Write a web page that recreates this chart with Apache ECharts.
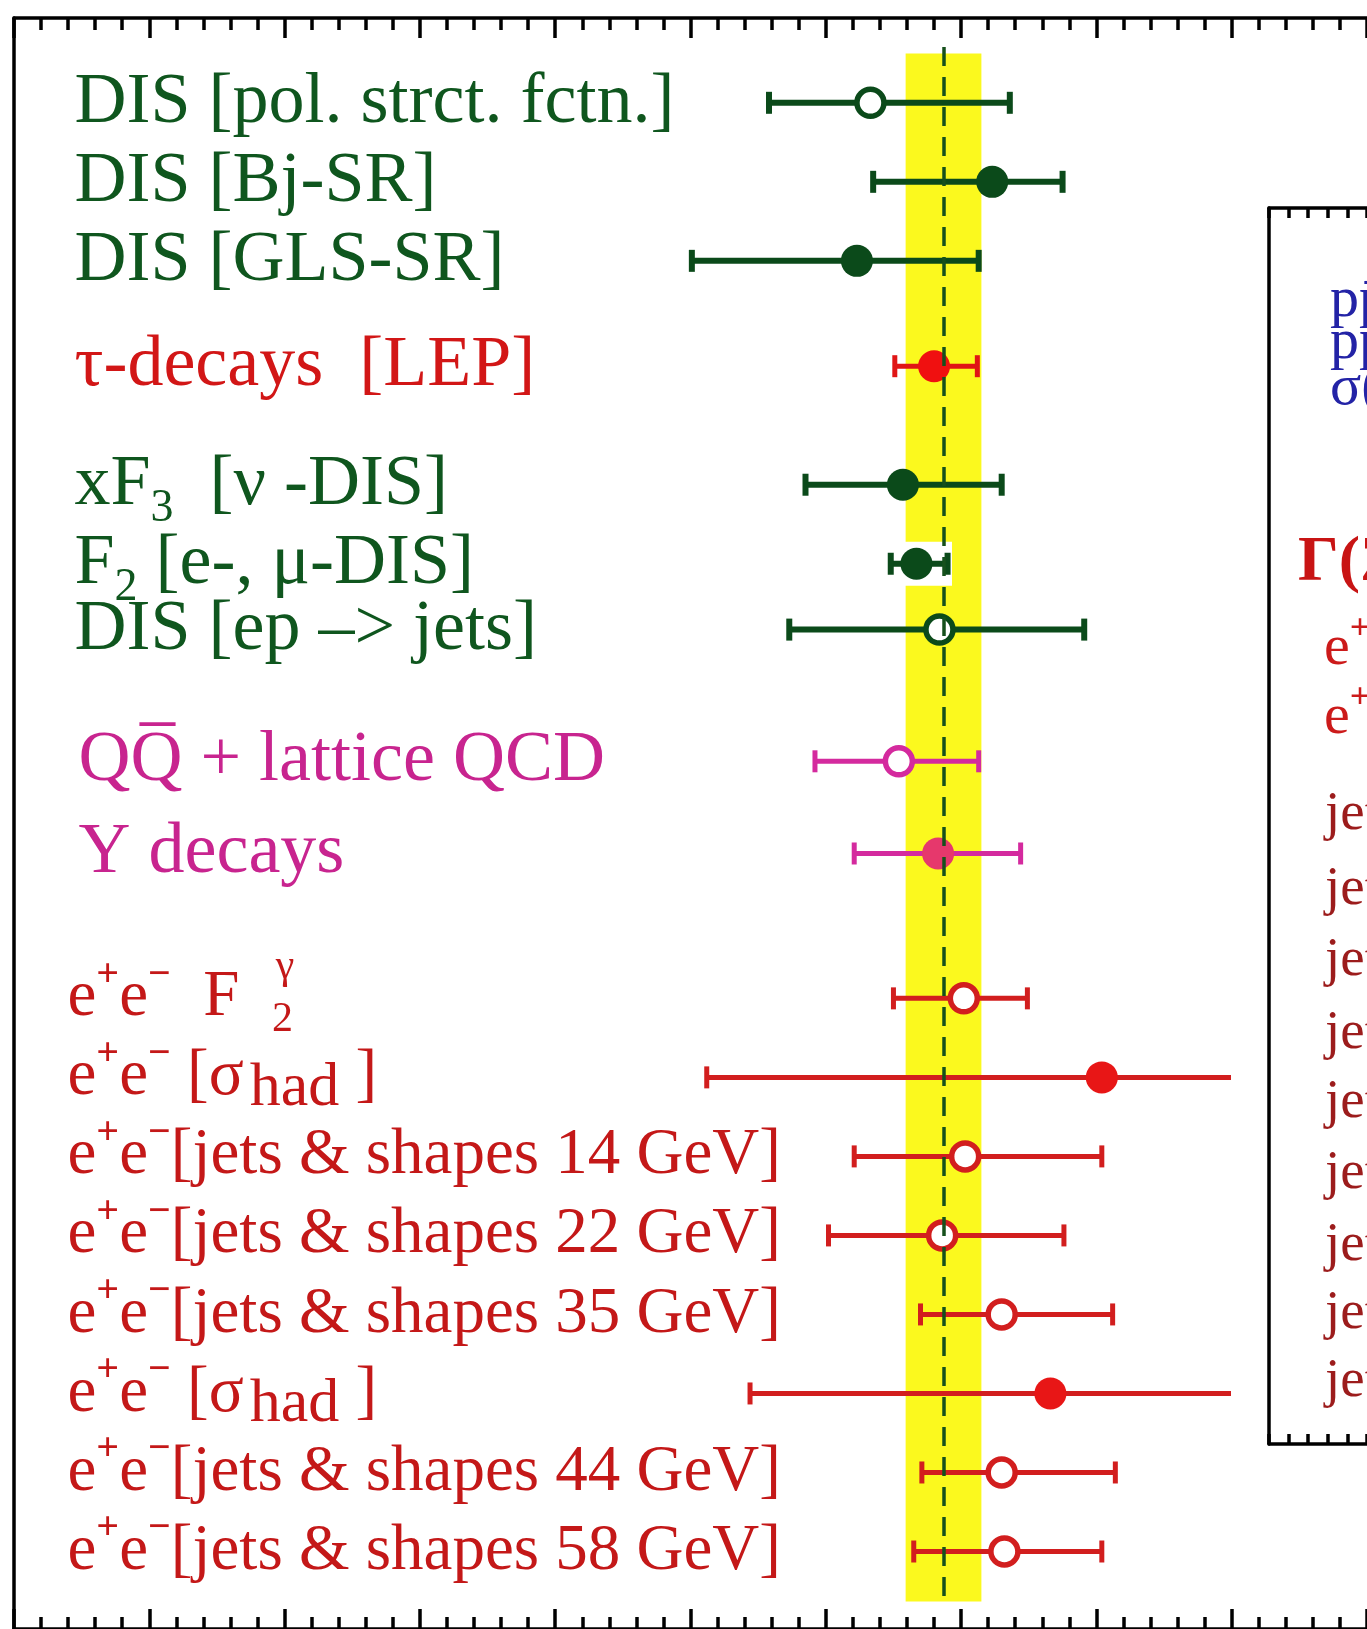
<!DOCTYPE html>
<html>
<head>
<meta charset="utf-8">
<title>alpha_s summary</title>
<script src="https://cdn.jsdelivr.net/npm/echarts@6.0.0/dist/echarts.min.js"></script>
<style>
html,body{margin:0;padding:0;background:#ffffff;}
#chart{width:1367px;height:1629px;}
</style>
</head>
<body>
<div id="chart"></div>
<script>
// ---------------- data ----------------
const rowLabels = [
  'DIS [pol. strct. fctn.]',
  'DIS [Bj-SR]',
  'DIS [GLS-SR]',
  'τ-decays  [LEP]',
  'xF_3  [ν -DIS]',
  'F_2 [e-, μ-DIS]',
  'DIS [ep –> jets]',
  'QQ\u0305 + lattice QCD',
  'Υ decays',
  'e^+e^-  F  _2',
  'e^+e^- [σ_had ]',
  'e^+e^-[jets & shapes 14 GeV]',
  'e^+e^-[jets & shapes 22 GeV]',
  'e^+e^-[jets & shapes 35 GeV]',
  'e^+e^- [σ_had ]',
  'e^+e^-[jets & shapes 44 GeV]',
  'e^+e^-[jets & shapes 58 GeV]'
];
const rowGroups = ['dis','dis','dis','tau','dis','dis','dis','qq','qq','ee','ee','ee','ee','ee','ee','ee','ee'];
const alphaS  = [0.1133,0.1223,0.1123,0.1180,0.1157,0.1167,0.1184,0.1154,0.1183,0.1202,0.1304,0.1203,0.1186,0.1230,0.1266,0.1230,0.1232];
const errLow  = [0.1058,0.1135,0.1001,0.1151,0.1085,0.1148,0.1073,0.1092,0.1121,0.1150,0.1012,0.1121,0.1102,0.1170,0.1044,0.1171,0.1165];
const errHigh = [0.1236,0.1275,0.1213,0.1212,0.1230,0.1190,0.1291,0.1213,0.1244,0.1249,0.1450,0.1304,0.1276,0.1312,0.1450,0.1314,0.1304];
const openMarker = [true,false,false,false,false,false,true,true,false,true,false,true,true,true,false,true,true];
const worldAverage = 0.1187;
const worldBand = [0.1159, 0.1215];
const axisMin = 0.05, axisMax = 0.15, axisStep = 0.01;
const insetTexts = [
  'pp\u0304 \u2192 bb\u0304X',
  'pp\u0304, pp \u2192 \u03b3X',
  '\u03c3(pp\u0304 \u2192 jets)',
  '\u0393(Z\u2070 \u2192 had.) [LEP]',
  '{b|e}{p|+}{b|e}{p|\u2212}{b| [jets & shapes 91.2 GeV]}',
  '{b|e}{p|+}{b|e}{p|\u2212}{b| [jets & shapes 133 GeV]}',
  'jets & shapes 161 GeV',
  'jets & shapes 172 GeV',
  'jets & shapes 183 GeV',
  'jets & shapes 189 GeV',
  'jets & shapes 192 GeV',
  'jets & shapes 196 GeV',
  'jets & shapes 200 GeV',
  'jets & shapes 202 GeV',
  'jets & shapes 206 GeV'
];
const insetKinds = ['blue','blue','blue','gamma','ee','ee','jet','jet','jet','jet','jet','jet','jet','jet','jet'];

// ---------------- layout / styles ----------------
const blankSlotsBefore = [0,5,5,7,8,5,4,9,6,10,5,5,5,5,5,5,5];
const insetPos = [[1330,301],[1330,343],[1330,389],[1298,563],[1324,649],[1324,718],
                  [1325,815],[1325,890],[1325,961],[1325,1034],[1325,1103],[1325,1174],[1325,1246],[1325,1314],[1325,1382]];
const FONT = '"Liberation Serif","Times New Roman",serif';
const groupStyle = {
  dis: {text:'#0f561e', bar:'#0b4a1a', marker:'#0b4a1a', fill:'#0b4a1a', w:6, cap:11, size:72, pad:7},
  tau: {text:'#d21616', bar:'#e01515', marker:'#f01010', fill:'#f01010', w:5, cap:11, size:72, pad:7},
  qq:  {text:'#c8248f', bar:'#d42a9e', marker:'#d42a9e', fill:'#e6386c', w:5, cap:11, size:72, pad:11},
  ee:  {text:'#c41818', bar:'#d21e1e', marker:'#d21e1e', fill:'#e81616', w:5, cap:11, size:65, pad:0}
};
const groupKeys = Object.keys(groupStyle);

// categories with blank spacer slots
const categories = [];
const rowSlot = [];
const slotRow = {};
rowLabels.forEach((lab, i) => {
  for (let k = 0; k < blankSlotsBefore[i]; k++) categories.push('');
  rowSlot[i] = categories.length;
  slotRow[categories.length] = i;
  categories.push(lab);
});

// rich text styles
const rich = {};
groupKeys.forEach(k => {
  const s = groupStyle[k];
  const lh = Math.round(s.size*1.3);
  rich[k]     = {color:s.text, fontFamily:FONT, fontSize:s.size, lineHeight:lh, verticalAlign:'middle'};
  rich[k+'F'] = {color:s.text, fontFamily:FONT, fontSize:s.size, lineHeight:lh, verticalAlign:'middle', padding:[0,0,0,s.pad]};
  rich[k+'B'] = {color:s.text, fontFamily:FONT, fontSize:Math.round(s.size*0.64), lineHeight:Math.round(s.size*0.62), verticalAlign:'bottom'};
  rich[k+'S'] = {color:s.text, fontFamily:FONT, fontSize:Math.round(s.size*0.95), lineHeight:Math.round(s.size*0.98), verticalAlign:'bottom', padding:[Math.round(s.size*0.62),0,0,6]};
  rich[k+'P'] = {color:s.text, fontFamily:FONT, fontSize:Math.round(s.size*0.62), fontWeight:'bold', lineHeight:Math.round(s.size*0.62), verticalAlign:'top'};
});
function toRich(s, key) {
  let out = '', buf = '', first = true;
  const flush = () => { if (buf) { out += '{' + key + (first ? 'F' : '') + '|' + buf + '}'; buf = ''; first = false; } };
  for (let i = 0; i < s.length; i++) {
    const c = s[i];
    if (c === '^') {
      flush();
      let t = s[i+1]; if (t === '-') t = '\u2212';
      out += '{' + key + 'P|' + t + '}'; i++; first = false;
    } else if (c === '_') {
      flush();
      let j = i + 1, t = '';
      while (j < s.length && /[0-9A-Za-z]/.test(s[j])) { t += s[j]; j++; }
      out += '{' + key + (t.length > 1 ? 'S' : 'B') + '|' + t + '}'; i = j - 1; first = false;
    } else buf += c;
  }
  flush();
  return out;
}

const barData = rowLabels.map((_, i) => [errLow[i], errHigh[i], rowSlot[i], groupKeys.indexOf(rowGroups[i])]);
const markerData = rowLabels.map((_, i) => {
  const st = groupStyle[rowGroups[i]];
  return openMarker[i]
    ? {value:[alphaS[i], rowSlot[i]], symbolSize:27, itemStyle:{color:'#ffffff', borderColor:st.marker, borderWidth:5.5, opacity:1}}
    : {value:[alphaS[i], rowSlot[i]], symbolSize:32, itemStyle:{color:st.fill, borderWidth:0, opacity:1}};
});

const frameAxis = (pos) => ({
  gridIndex:0, type:'value', position:pos, min:axisMin, max:axisMax, interval:axisStep,
  axisLine:{show:true, onZero:false, lineStyle:{color:'#000', width:3.5}},
  axisTick:{show:true, inside:true, length:20, lineStyle:{color:'#000', width:3.5}},
  minorTick:{show:true, splitNumber:5, length:12, lineStyle:{color:'#000', width:3.5}},
  axisLabel:{show:false}, splitLine:{show:false}, minorSplitLine:{show:false}
});
const insetAxis = (pos) => ({
  gridIndex:2, type:'value', position:pos, min:0, max:5, interval:1, z:10,
  axisLine:{show:true, onZero:false, lineStyle:{color:'#000', width:3.5}},
  axisTick:{show:true, inside:true, length:10, lineStyle:{color:'#000', width:3.5}},
  axisLabel:{show:false}, splitLine:{show:false}
});

const nSlots = categories.length;
const slotH = 13.17;
const chart = echarts.init(document.getElementById('chart'), null, {renderer:'canvas'});
chart.setOption({
  animation:false,
  backgroundColor:'#ffffff',
  grid:[
    {left:14, top:18, width:1357.5, height:1614},
    {left:14, top:102.8 - slotH/2, width:1357.5, height:nSlots*slotH},
    {left:1269, top:208, width:135, height:1236}
  ],
  xAxis:[
    frameAxis('top'), frameAxis('bottom'),
    {gridIndex:1, type:'value', min:axisMin, max:axisMax, show:false},
    insetAxis('top'), insetAxis('bottom')
  ],
  yAxis:[
    {gridIndex:0, type:'value', min:0, max:1, inverse:true,
     axisLine:{show:true, onZero:false, lineStyle:{color:'#000', width:3.5}},
     axisTick:{show:false}, axisLabel:{show:false}, splitLine:{show:false}},
    {gridIndex:1, type:'category', inverse:true, data:categories, boundaryGap:true,
     axisLine:{show:false}, axisTick:{show:false}, splitLine:{show:false},
     axisLabel:{show:true, interval:0, align:'left', margin:-53.5, rich:rich,
       formatter:(v, idx) => { const r = slotRow[idx]; return (r === undefined) ? '' : toRich(rowLabels[r], rowGroups[r]); }}},
    {gridIndex:2, type:'value', min:0, max:1, z:10,
     axisLine:{show:true, onZero:false, lineStyle:{color:'#000', width:3.5}},
     axisTick:{show:false}, axisLabel:{show:false}, splitLine:{show:false}}
  ],
  series:[
    {type:'line', xAxisIndex:0, yAxisIndex:0, z:1, silent:true, symbol:'none',
     lineStyle:{opacity:0}, data:[[worldAverage,0.5]],
     markArea:{silent:true, itemStyle:{color:'#fbf91e'},
       data:[[{xAxis:worldBand[0], yAxis:0.022},{xAxis:worldBand[1], yAxis:0.983}]]}},
    {type:'line', xAxisIndex:0, yAxisIndex:0, z:2, silent:true, symbol:'none',
     lineStyle:{opacity:0}, data:[[worldAverage,0.5]],
     markLine:{silent:true, symbol:'none', label:{show:false},
       lineStyle:{type:[19,11], color:'#16501c', width:3.5},
       data:[[{coord:[worldAverage,0.018]},{coord:[worldAverage,0.983]}]]}},
    {type:'custom', xAxisIndex:2, yAxisIndex:1, z:3, silent:true,
     encode:{x:[0,1], y:2},
     renderItem:(params, api) => {
       const lo = api.value(0), hi = api.value(1), cat = api.value(2);
       const st = groupStyle[groupKeys[api.value(3)]];
       const p1 = api.coord([lo, cat]), p2 = api.coord([hi, cat]);
       const ls = {stroke:st.bar, lineWidth:st.w};
       return {type:'group', children:[
         {type:'line', shape:{x1:p1[0], y1:p1[1], x2:p2[0], y2:p2[1]}, style:ls},
         {type:'line', shape:{x1:p1[0], y1:p1[1]-st.cap, x2:p1[0], y2:p1[1]+st.cap}, style:ls},
         {type:'line', shape:{x1:p2[0], y1:p2[1]-st.cap, x2:p2[0], y2:p2[1]+st.cap}, style:ls}
       ]};
     },
     data:barData},
    {type:'scatter', xAxisIndex:2, yAxisIndex:1, z:4, silent:true, symbol:'circle', data:markerData}
  ]
});

// overlay: F2 white notch, inset white panel, gamma superscript, inset texts
const yF2 = chart.convertToPixel({yAxisIndex:1}, rowSlot[5]);
const yF2g = chart.convertToPixel({yAxisIndex:1}, rowSlot[9]);
const insetStyle = {
  blue:  {fill:'#2323a6', fontSize:58, fontWeight:'normal'},
  gamma: {fill:'#c81414', fontSize:64, fontWeight:'bold'},
  ee:    {fill:'#cc1a1a', fontSize:58, fontWeight:'normal'},
  jet:   {fill:'#9c1c1c', fontSize:55, fontWeight:'normal'}
};
const elements = [
  {type:'rect', z:1.5, silent:true, shape:{x:873, y:yF2-22, width:79, height:44}, style:{fill:'#ffffff'}},
  {type:'rect', z:5, silent:true, shape:{x:1231, y:200, width:200, height:1252}, style:{fill:'#ffffff'}},
  {type:'text', z:5, silent:true, x:285, y:yF2g-31,
   style:{text:'\u03b3', fill:groupStyle.ee.text, font:'42px ' + FONT, textAlign:'center', textVerticalAlign:'middle'}}
];
insetTexts.forEach((t, i) => {
  const s = insetStyle[insetKinds[i]];
  const st = {text:t, fill:s.fill, font:s.fontWeight + ' ' + s.fontSize + 'px ' + FONT, textAlign:'left', textVerticalAlign:'middle'};
  if (insetKinds[i] === 'ee') {
    st.rich = {
      b:{fill:s.fill, fontFamily:FONT, fontSize:s.fontSize, lineHeight:Math.round(s.fontSize*1.3), verticalAlign:'middle'},
      p:{fill:s.fill, fontFamily:FONT, fontSize:Math.round(s.fontSize*0.62), fontWeight:'bold', lineHeight:Math.round(s.fontSize*0.62), verticalAlign:'top'}
    };
  }
  elements.push({type:'text', z:7, silent:true, x:insetPos[i][0], y:insetPos[i][1], style:st});
});
chart.setOption({graphic:{elements:elements}});
</script>
</body>
</html>
